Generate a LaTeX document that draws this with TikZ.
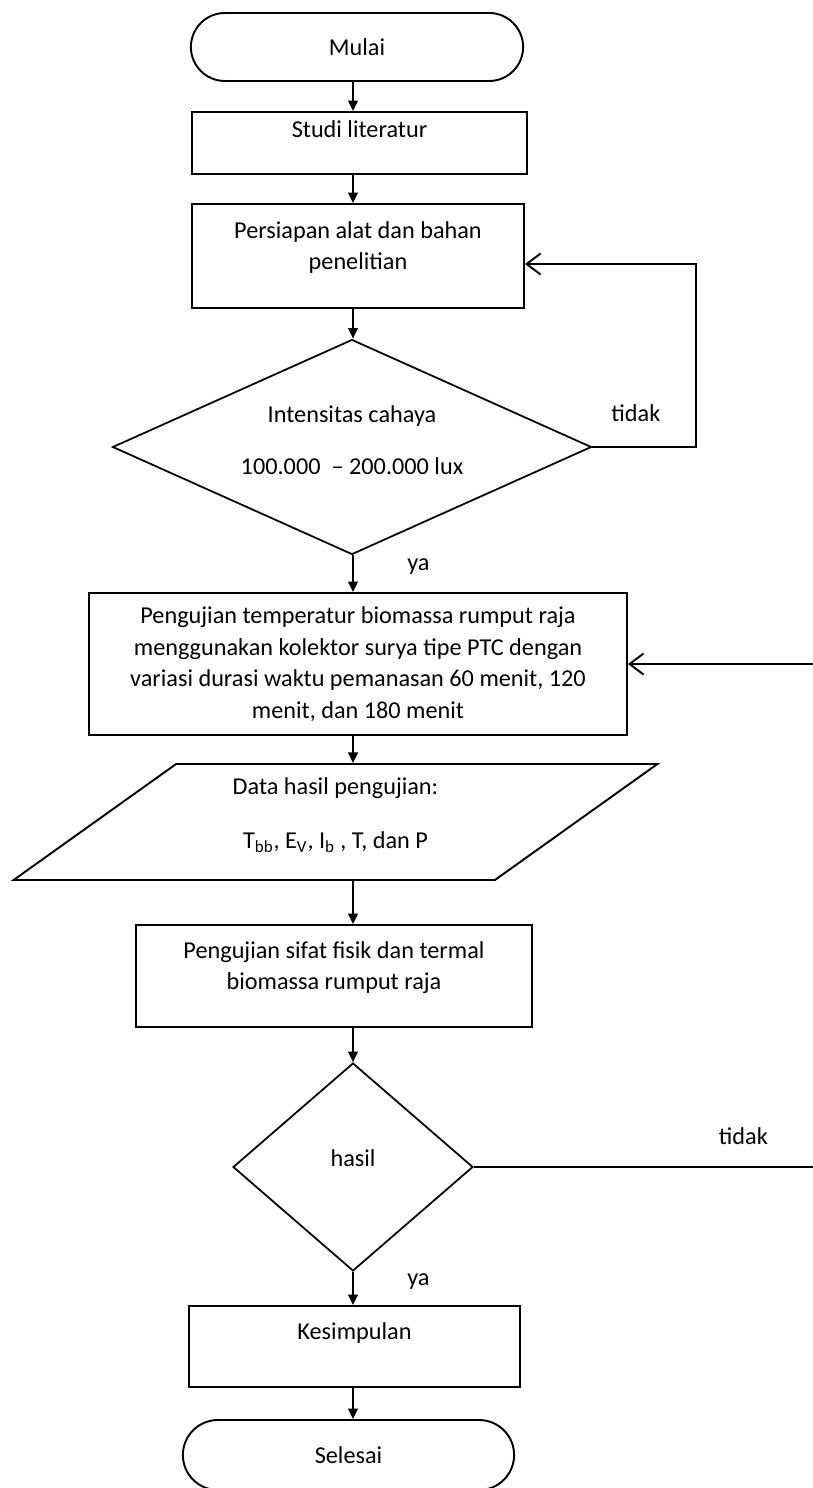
\documentclass[tikz,border=0pt]{standalone}
\usepackage{fontspec}
\setmainfont{Carlito}
\usetikzlibrary{calc,positioning,shapes.geometric,shapes.misc,arrows.meta}
\def\teks{\fontsize{13.8}{18}\selectfont}
\tikzset{
  kotak/.style={draw, line width=1.1pt, rectangle, align=center, font=\teks, inner sep=2pt},
  terminal/.style={draw, line width=1.1pt, rounded rectangle, font=\teks},
  keputusan/.style={draw, line width=1pt, diamond, align=center, font=\teks, inner sep=0pt},
  dataio/.style={draw, line width=1.1pt, trapezium, trapezium left angle=42, trapezium right angle=138,
                 trapezium stretches=true, align=center, font=\teks},
  panah/.style={line width=1.1pt, -{Triangle[length=6pt,width=5.5pt]}},
  panahbalik/.style={line width=1.1pt, -{Straight Barb[length=8pt,width=12pt]}},
  ket/.style={font=\teks}
}

\begin{document}
\begin{tikzpicture}[x=0.02cm, y=-0.02cm]
  \useasboundingbox (0,0) rectangle (812,1488);
  \coordinate (kolom) at (353,0);
  \coordinate (belok) at (696,0);
  \coordinate (tepi) at (815,0);

  \node[terminal, minimum width=6.88cm, minimum height=1.36cm] (mulai) at (357,47) {Mulai};
  \node[kotak, minimum width=6.7cm, minimum height=1.24cm, text height=9pt, text depth=15pt]
    (studi) at (359.5,143) {Studi literatur};
  \node[kotak, minimum width=6.64cm, minimum height=2.08cm]
    (persiapan) at (358,256) {Persiapan alat dan bahan\\penelitian\\[-6pt]\mbox{}};
  \node[keputusan, aspect=2.23, minimum width=9.58cm, minimum height=4.3cm]
    (intensitas) at (352,447) {Intensitas cahaya\\[12pt]100.000 \ -- 200.000 lux\\[-10pt]\mbox{}};
  \node[kotak, minimum width=10.76cm, minimum height=2.84cm]
    (pengujian) at (358,664) {Pengujian temperatur biomassa rumput raja\\
      menggunakan kolektor surya tipe PTC dengan\\
      variasi durasi waktu pemanasan 60 menit, 120\\
      menit, dan 180 menit};
  \node[dataio, minimum width=12.9cm, minimum height=2.32cm]
    (data) at (335.5,822) {Data hasil pengujian:\\[12.5pt]
      T\textsubscript{bb}, E\textsubscript{V}, I\textsubscript{b} , T, dan P\\[-8pt]\mbox{}};
  \node[kotak, minimum width=7.92cm, minimum height=2.04cm]
    (sifat) at (334,976) {Pengujian sifat fisik dan termal\\biomassa rumput raja\\[-6pt]\mbox{}};
  \node[keputusan, minimum width=4.8cm, minimum height=4.16cm]
    (hasil) at (353,1167) {hasil\\[-8pt]\mbox{}};
  \node[kotak, minimum width=6.62cm, minimum height=1.62cm, text height=9pt, text depth=17pt]
    (kesimpulan) at (354.5,1346.5) {Kesimpulan};
  \node[terminal, minimum width=6.86cm, minimum height=1.4cm] (selesai) at (348.5,1455) {Selesai};

  \draw[panah] (mulai.south -| kolom) -- (studi.north -| kolom);
  \draw[panah] (studi.south -| kolom) -- (persiapan.north -| kolom);
  \draw[panah] (persiapan.south -| kolom) -- (intensitas.north -| kolom);
  \draw[panah] (intensitas.south -| kolom) -- (pengujian.north -| kolom)
    node[ket, pos=0.3, anchor=west, xshift=0.95cm] (ya1) {ya};
  \draw[panah] (pengujian.south -| kolom) -- (data.north -| kolom);
  \draw[panah] (data.south -| kolom) -- (sifat.north -| kolom);
  \draw[panah] (sifat.south -| kolom) -- (hasil.north);
  \draw[panah] (hasil.south) -- (kesimpulan.north -| kolom)
    node[ket, pos=0.3, anchor=west, xshift=0.95cm] (ya2) {ya};
  \draw[panah] (kesimpulan.south -| kolom) -- (selesai.north -| kolom);

  \draw[panahbalik] (intensitas.east) -- (intensitas.east -| belok)
    node[ket, pos=0.42, yshift=0.68cm] (tidak1) {tidak} |- ($(persiapan.east)+(0,8)$);
  \draw[panahbalik] (hasil.east) -- (hasil.east -| tepi)
    node[ket, pos=0.79, yshift=0.62cm] (tidak2) {tidak} |- (pengujian.east);
\end{tikzpicture}
\end{document}
